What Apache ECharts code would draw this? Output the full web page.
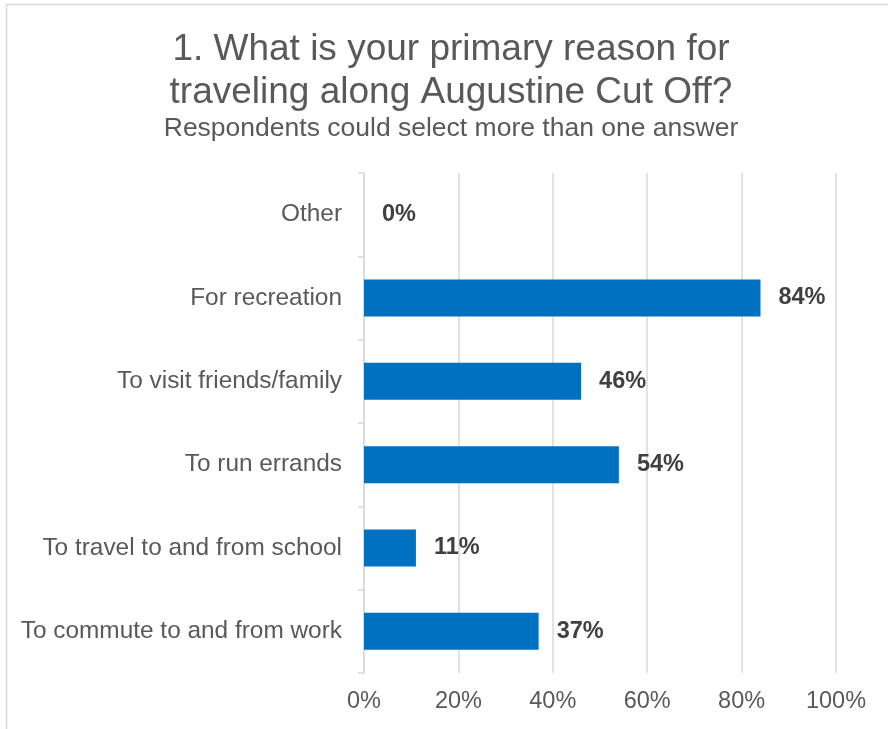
<!DOCTYPE html>
<html>
<head>
<meta charset="utf-8">
<style>
  html, body { margin: 0; padding: 0; background: #ffffff; }
  #chart { width: 888px; height: 729px; }
</style>
<script src="https://cdn.jsdelivr.net/npm/echarts@6/dist/echarts.min.js"></script>
</head>
<body>
<div id="chart"></div>
<script>
// Survey answers, listed bottom to top as drawn on the category axis
const categories = [
  'To commute to and from work',
  'To travel to and from school',
  'To run errands',
  'To visit friends/family',
  'For recreation',
  'Other'
];
const shares = [37, 11, 54, 46, 84, 0];
const xTicks = [0, 20, 40, 60, 80, 100];

const titleText = '1. What is your primary reason for\ntraveling along Augustine Cut Off?';
const subtitleText = 'Respondents could select more than one answer';

const FONT = '"Liberation Sans", Arial, sans-serif';

const chart = echarts.init(document.getElementById('chart'), null, { renderer: 'canvas' });

chart.setOption({
  backgroundColor: '#ffffff',
  animation: false,
  graphic: [
    {
      type: 'rect',
      shape: { x: 6.5, y: 4.5, width: 900, height: 800 },
      style: { fill: 'none', stroke: '#d9d9d9', lineWidth: 1.5 },
      silent: true
    },
    {
      type: 'text',
      x: 451,
      y: 28,
      style: {
        text: titleText,
        font: '37px ' + FONT,
        fill: '#595959',
        align: 'center',
        verticalAlign: 'top',
        lineHeight: 43
      }
    },
    {
      type: 'text',
      x: 451,
      y: 115,
      style: {
        text: subtitleText,
        font: '26.5px ' + FONT,
        fill: '#595959',
        align: 'center',
        verticalAlign: 'top'
      }
    }
  ],
  grid: { left: 364, right: 52, top: 173, bottom: 56, containLabel: false },
  xAxis: {
    type: 'value',
    min: 0,
    max: 100,
    interval: 20,
    axisLine: { show: false },
    axisTick: { show: false },
    splitLine: { show: true, lineStyle: { color: '#d9d9d9', width: 1.5 } },
    axisLabel: {
      color: '#595959',
      fontFamily: FONT,
      fontSize: 23.5,
      margin: 17,
      formatter: function (v) { return xTicks.indexOf(v) >= 0 ? v + '%' : ''; }
    }
  },
  yAxis: {
    type: 'category',
    data: categories,
    axisLine: { show: true, lineStyle: { color: '#d9d9d9', width: 1.5 } },
    axisTick: { show: true, length: 6, lineStyle: { color: '#d9d9d9', width: 1.5 } },
    axisLabel: {
      color: '#595959',
      fontFamily: FONT,
      fontSize: 24.4,
      margin: 22
    }
  },
  series: [
    {
      type: 'bar',
      data: shares,
      barWidth: 37,
      itemStyle: { color: '#0070C0' },
      label: {
        show: true,
        position: 'right',
        distance: 18,
        formatter: '{c}%',
        color: '#404040',
        fontFamily: FONT,
        fontSize: 23.5,
        fontWeight: 'bold'
      }
    }
  ]
});
</script>
</body>
</html>
